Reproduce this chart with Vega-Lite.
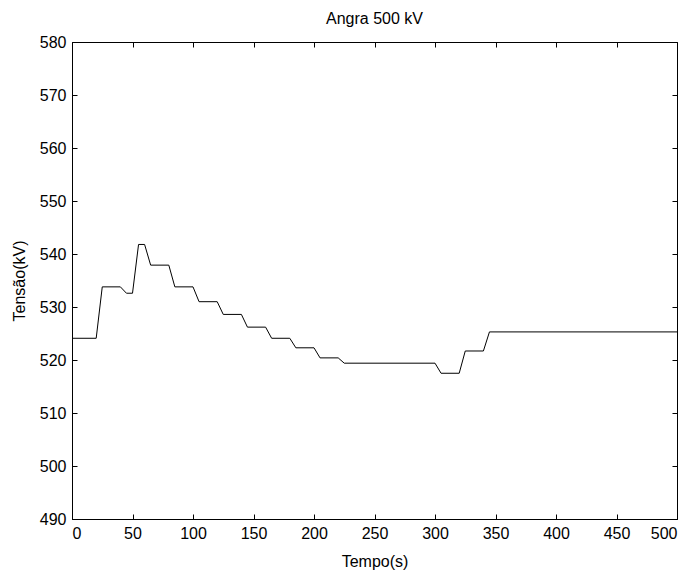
{
  "$schema": "https://vega.github.io/schema/vega-lite/v6.json",
  "autosize": {"type": "none"},
  "padding": {"left": 72, "top": 42, "right": 19, "bottom": 55},
  "width": 605,
  "height": 477,
  "background": "white",
  "title": {"text": "Angra 500 kV", "fontSize": 16, "font": "Liberation Sans", "fontWeight": "normal", "color": "black", "offset": 7},
  "config": {
    "view": {"stroke": "black", "strokeWidth": 1},
    "axis": {"grid": false, "labelFont": "Liberation Sans", "titleFont": "Liberation Sans", "labelFontSize": 16, "titleFontSize": 16, "titleFontWeight": "normal", "labelColor": "black", "titleColor": "black", "domainColor": "black", "tickColor": "black", "tickSize": -5}
  },
  "data": {"values": [
    {"t": 0, "v": 524.1}, {"t": 20, "v": 524.1}, {"t": 25, "v": 533.8}, {"t": 40, "v": 533.8},
    {"t": 45, "v": 532.6}, {"t": 50, "v": 532.6}, {"t": 55, "v": 541.8}, {"t": 60, "v": 541.8},
    {"t": 65, "v": 537.9}, {"t": 80, "v": 537.9}, {"t": 85, "v": 533.8}, {"t": 100, "v": 533.8},
    {"t": 105, "v": 531.0}, {"t": 120, "v": 531.0}, {"t": 125, "v": 528.6}, {"t": 140, "v": 528.6},
    {"t": 145, "v": 526.2}, {"t": 160, "v": 526.2}, {"t": 165, "v": 524.1}, {"t": 180, "v": 524.1},
    {"t": 185, "v": 522.3}, {"t": 200, "v": 522.3}, {"t": 205, "v": 520.4}, {"t": 220, "v": 520.4},
    {"t": 225, "v": 519.4}, {"t": 300, "v": 519.4}, {"t": 305, "v": 517.5}, {"t": 320, "v": 517.5},
    {"t": 325, "v": 521.7}, {"t": 340, "v": 521.7}, {"t": 345, "v": 525.3}, {"t": 500, "v": 525.3}
  ]},
  "layer": [
    {
      "mark": {"type": "line", "color": "black", "strokeWidth": 1},
      "encoding": {
        "x": {"field": "t", "type": "quantitative", "scale": {"domain": [0, 500], "nice": false}, "axis": {"title": "Tempo(s)", "values": [0,50,100,150,200,250,300,350,400,450,500], "labelPadding": 11, "titlePadding": 12}},
        "y": {"field": "v", "type": "quantitative", "scale": {"domain": [490, 580], "nice": false, "zero": false}, "axis": {"title": "Tensão(kV)", "values": [490,500,510,520,530,540,550,560,570,580], "labelPadding": 11, "titlePadding": 12}}
      }
    },
    {
      "mark": {"type": "line", "opacity": 0},
      "encoding": {
        "x": {"field": "t", "type": "quantitative", "scale": {"domain": [0, 500], "nice": false}, "axis": {"orient": "top", "labels": false, "title": null, "domain": false, "values": [0,50,100,150,200,250,300,350,400,450,500]}},
        "y": {"field": "v", "type": "quantitative", "scale": {"domain": [490, 580], "nice": false, "zero": false}, "axis": {"orient": "right", "labels": false, "title": null, "domain": false, "values": [490,500,510,520,530,540,550,560,570,580]}}
      }
    }
  ],
  "resolve": {"axis": {"x": "independent", "y": "independent"}}
}
